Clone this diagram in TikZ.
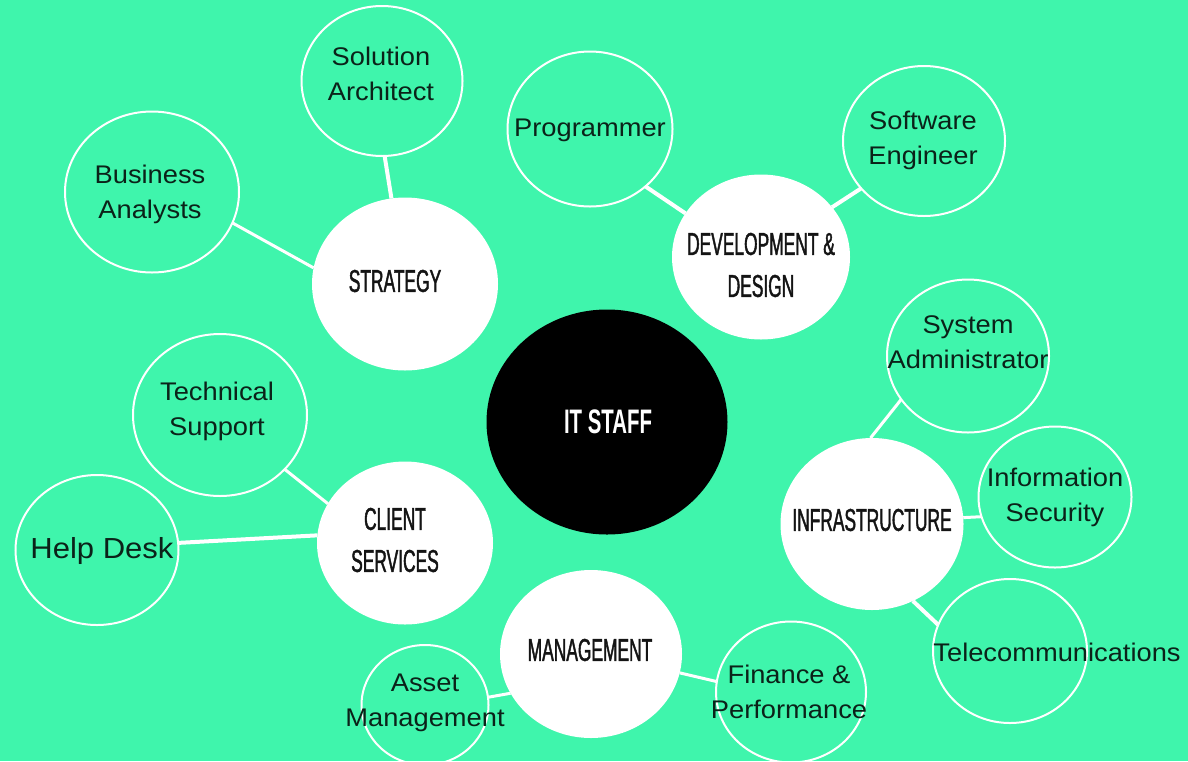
\documentclass[tikz,border=0pt]{standalone}
\usepackage{fontspec}
\usetikzlibrary{shapes.geometric}

% Fonts: plain sans for the roles, a tall narrow sans for the groups
\newfontfamily\rolefont[FakeStretch=1.07]{Liberation Sans}
\newfontfamily\catfont[FakeStretch=0.55, FakeBold=1.3]{Liberation Sans}
\newfontfamily\hubfont[FakeStretch=0.6]{Liberation Sans Bold}

\definecolor{mint}{HTML}{3FF5AC}
\definecolor{ink}{HTML}{0B2219}

\tikzset{
  bubble/.style={ellipse, inner sep=0pt, outer sep=0pt},
  role/.style={bubble, draw=white, line width=1pt},
  group/.style={bubble, fill=white},
  hub/.style={bubble, fill=black},
  roletext/.style={font=\rolefont\fontsize{12.75}{17.5}\selectfont, text=ink, align=center, inner sep=0pt},
  bigrole/.style={roletext, font=\rolefont\fontsize{14.5}{17.5}\selectfont},
  grouptext/.style={font=\catfont\fontsize{15.8}{21}\selectfont, text=black!92, align=center, inner sep=0pt},
  hubtext/.style={font=\hubfont\fontsize{17}{20}\selectfont, text=white, inner sep=0pt},
  link/.style={draw=white, line width=1.5pt},
  heavylink/.style={draw=white, line width=2pt},
}

\begin{document}
\begin{tikzpicture}[x=0.5pt, y=-0.5pt]
  % canvas
  \useasboundingbox (0,0) rectangle (1188,761);
  \fill[mint] (0,0) rectangle (1188,761);

  % centre
  \node[hub, minimum width=120.5pt, minimum height=112.5pt] (staff) at (607,422) {};
  \node[hubtext] (staff-t) at (608,422) {IT STAFF};

  % groups
  \node[group, minimum width=93pt, minimum height=86.5pt] (strategy) at (405,284) {};
  \node[grouptext] (strategy-t) at (395,281) {STRATEGY};

  \node[group, minimum width=89pt, minimum height=82.5pt] (dev) at (761,257) {};
  \node[grouptext] (dev-t) at (761,265) {DEVELOPMENT \&\\DESIGN};

  \node[group, minimum width=88pt, minimum height=81.5pt] (client) at (405,543) {};
  \node[grouptext] (client-t) at (395,540) {CLIENT\\SERVICES};

  \node[group, minimum width=91.5pt, minimum height=86pt] (infra) at (872,524) {};
  \node[grouptext] (infra-t) at (872,520) {INFRASTRUCTURE};

  \node[group, minimum width=91pt, minimum height=84pt] (mgmt) at (591,654) {};
  \node[grouptext] (mgmt-t) at (590,650) {MANAGEMENT};

  % roles
  \node[role, minimum width=80.5pt, minimum height=75pt] (solarch) at (382,81) {};
  \node[roletext] (solarch-t) at (381,74) {Solution\\Architect};

  \node[role, minimum width=87pt, minimum height=80.5pt] (busan) at (152,192) {};
  \node[roletext] (busan-t) at (150,194) {Business\\Analysts};

  \node[role, minimum width=82.5pt, minimum height=77.5pt] (prog) at (590,129) {};
  \node[roletext] (prog-t) at (590,130) {Programmer};

  \node[role, minimum width=81pt, minimum height=75pt] (softeng) at (924,141) {};
  \node[roletext] (softeng-t) at (923,140) {Software\\Engineer};

  \node[role, minimum width=87pt, minimum height=81pt] (techsup) at (220,415) {};
  \node[roletext] (techsup-t) at (217,411) {Technical\\Support};

  \node[role, minimum width=81.5pt, minimum height=75pt] (helpdesk) at (97,550) {};
  \node[bigrole] (helpdesk-t) at (102,551) {Help Desk};

  \node[role, minimum width=81pt, minimum height=76.5pt] (sysadmin) at (968,356) {};
  \node[roletext] (sysadmin-t) at (968,342) {System\\Administrator};

  \node[role, minimum width=76.5pt, minimum height=70.5pt] (infosec) at (1055,497) {};
  \node[roletext] (infosec-t) at (1055,497) {Information\\Security};

  \node[role, minimum width=77pt, minimum height=72pt] (telecom) at (1010,651) {};
  \node[roletext] (telecom-t) at (1057,652) {Telecommunications};

  \node[role, minimum width=63.5pt, minimum height=60pt] (asset) at (425,705) {};
  \node[roletext] (asset-t) at (425,703) {Asset\\Management};

  \node[role, minimum width=75pt, minimum height=70.5pt] (finance) at (791,692) {};
  \node[roletext] (finance-t) at (789,692) {Finance \&\\Performance};

  % links between groups and their roles
  \draw[heavylink] (solarch.-88) -- (strategy.99);
  \draw[link] (busan.-21) -- (strategy.170);
  \draw[heavylink] (prog.-46) -- (dev.150);
  \draw[heavylink] (dev.35) -- (softeng.-143);
  \draw[link] (techsup.-40) -- (client.153);
  \draw[heavylink] (helpdesk.5) -- (client.175);
  \draw[link] (infra.91) -- (sysadmin.-147);
  \draw[link] (infra.4) -- (infosec.195);
  \draw[heavylink] (infra.-62) -- (telecom.160);
  \draw[link] (mgmt.206) -- (asset.7);
  \draw[link] (mgmt.-12) -- (finance.172);
\end{tikzpicture}
\end{document}
